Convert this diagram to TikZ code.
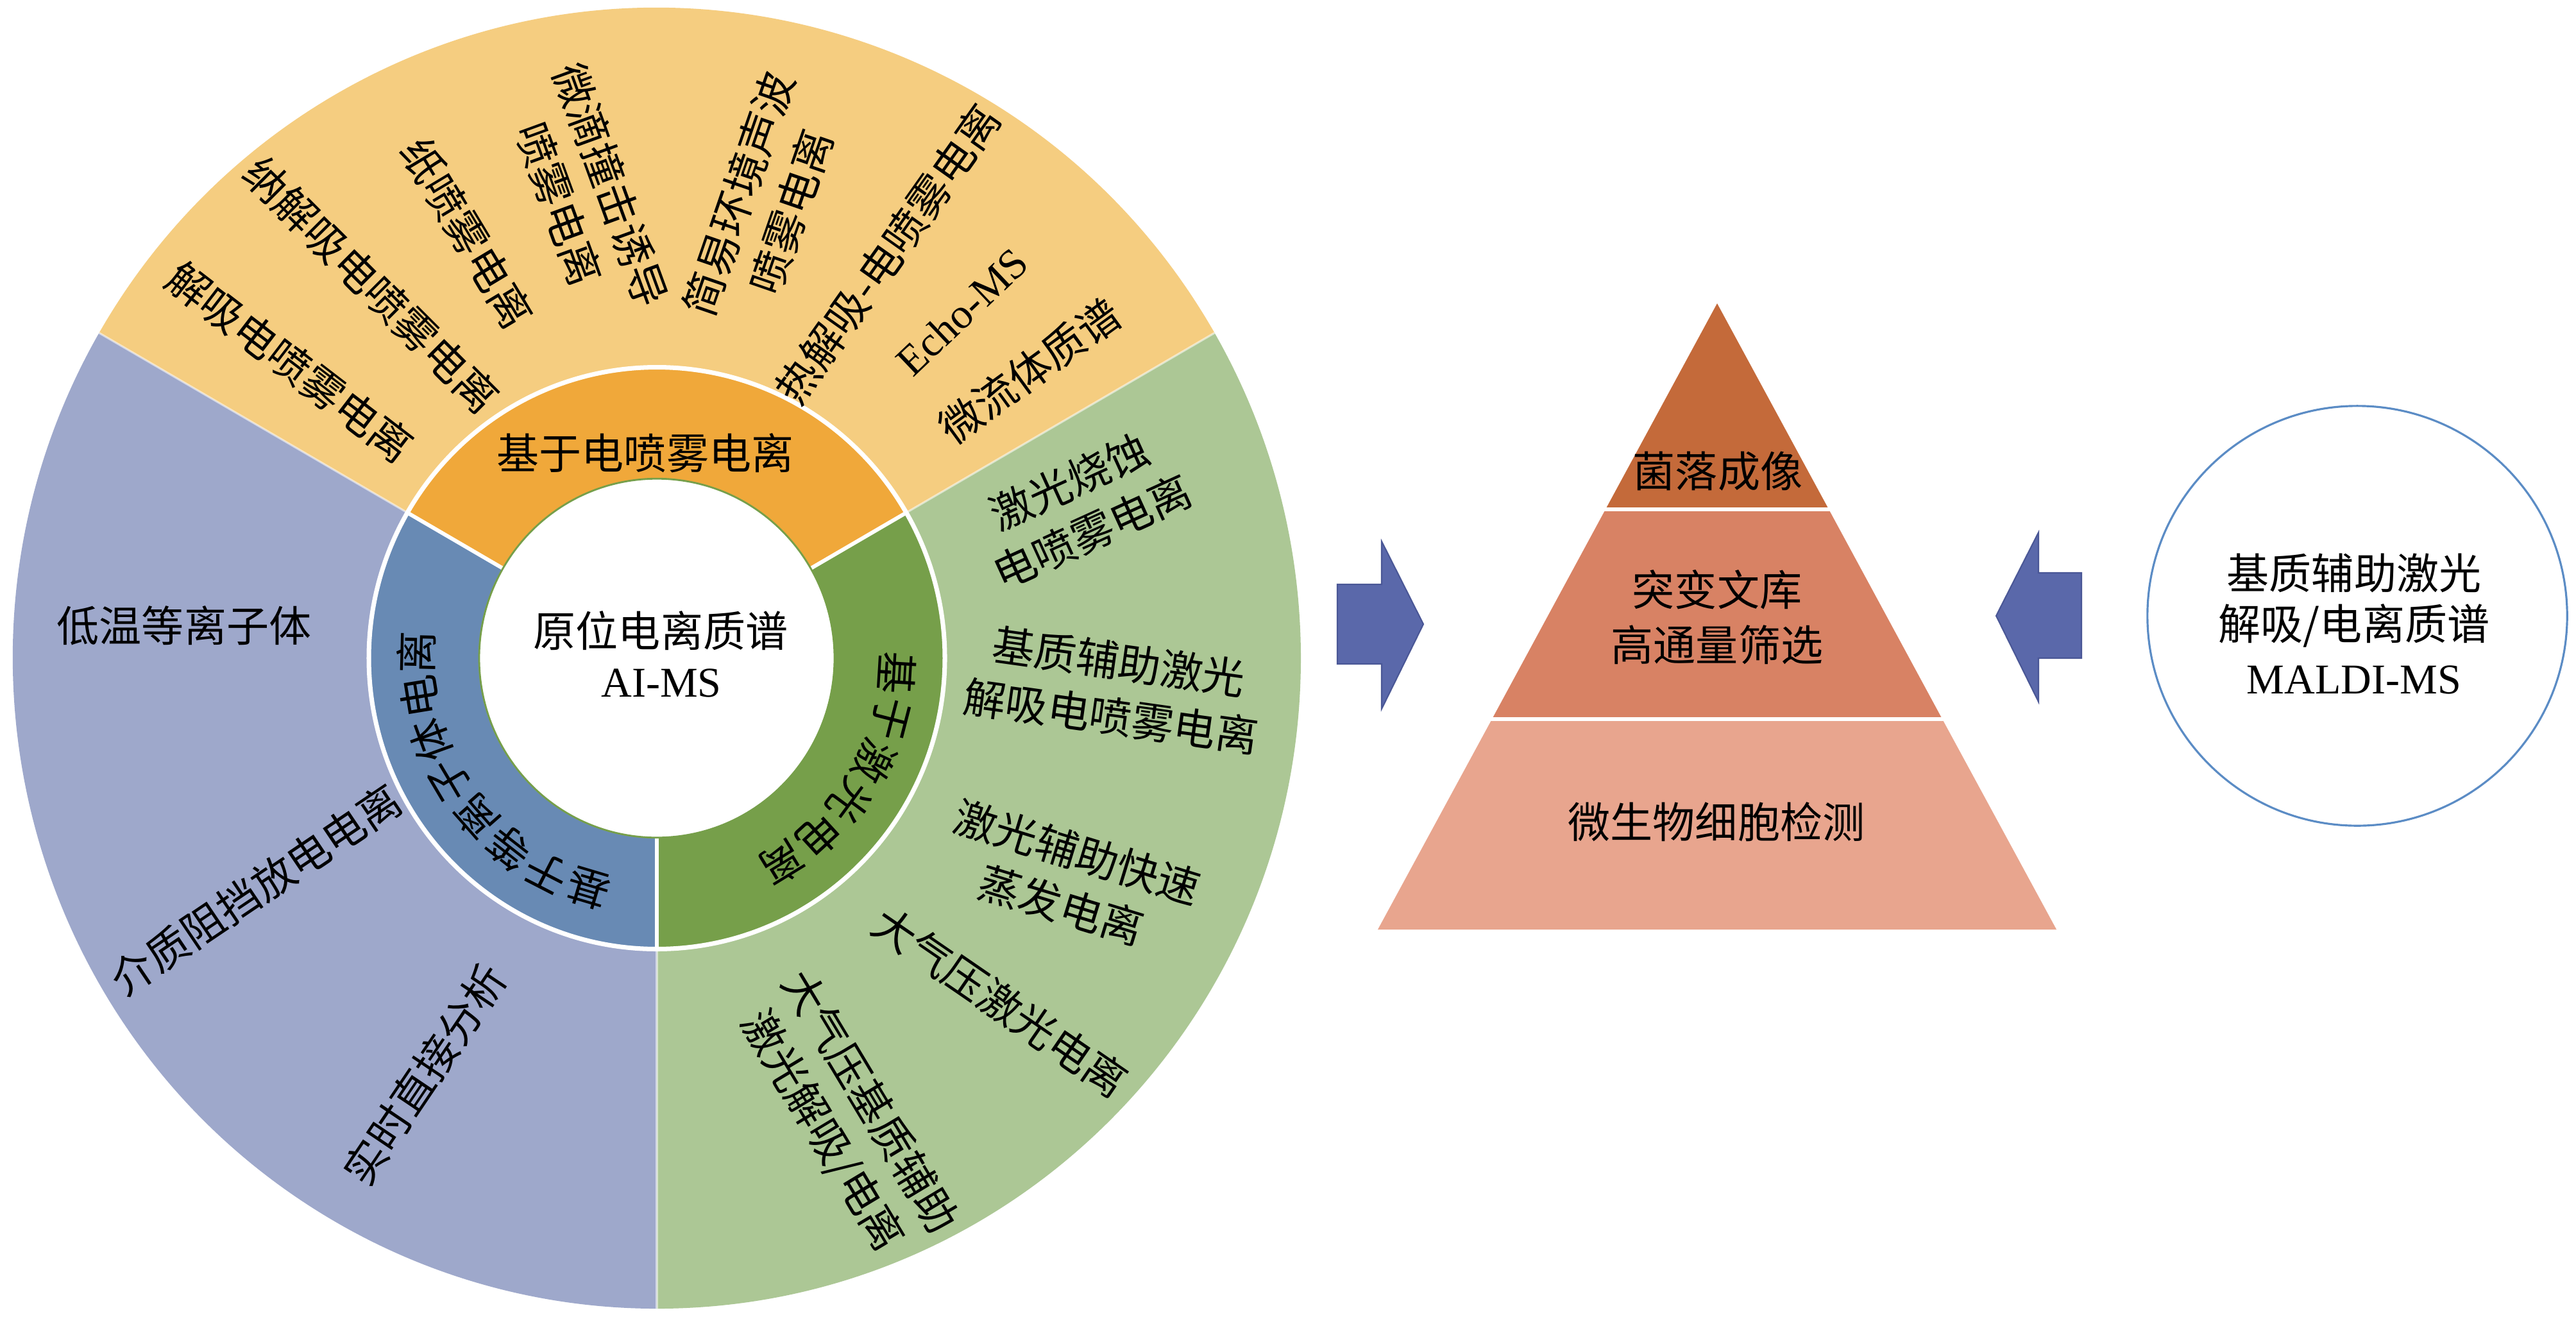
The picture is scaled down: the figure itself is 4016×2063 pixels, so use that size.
\documentclass[tikz,border=0pt]{standalone}
\usepackage{fontspec}
\setmainfont{Liberation Serif}
\newfontfamily\cjk{Noto Sans CJK SC}
\definecolor{cYel}{HTML}{F5CD80}
\definecolor{cOra}{HTML}{F0A83A}
\definecolor{cPur}{HTML}{9EA8CB}
\definecolor{cBlu}{HTML}{688AB4}
\definecolor{cGrl}{HTML}{ACC795}
\definecolor{cGrd}{HTML}{769F4A}
\definecolor{cPyA}{HTML}{C46A3A}
\definecolor{cPyB}{HTML}{D88264}
\definecolor{cPyC}{HTML}{E8A58E}
\definecolor{cArr}{HTML}{5A68AA}
\definecolor{cArrE}{HTML}{4A5796}
\definecolor{cCirc}{HTML}{5B8CC5}
\begin{document}
\begin{tikzpicture}[x=0.01cm,y=0.01cm,
  zh/.style={font=\cjk\fontsize{18.8pt}{24.5pt}\selectfont, align=center, inner sep=0pt, text=black},
  la/.style={font=\fontsize{18.8pt}{24.5pt}\selectfont, inner sep=0pt, text=black},
  sepline/.style={white, line width=1.7pt},
  fainsep/.style={white, opacity=0.55, line width=0.9pt},
  arrowshape/.style={fill=cArr, draw=cArrE, line width=0.6pt, line join=miter}]
\useasboundingbox (0,0) rectangle (4016,-2063);
\fill[white] (0,0) rectangle (4016,-2063);

% ---------------- wheel ----------------
\begin{scope}[shift={(1024,-1026)}, yscale=1.01]
  % outer ring
  \fill[cYel] (0,0) -- (30:1004) arc[start angle=30, end angle=150, radius=1004] -- cycle;
  \fill[cPur] (0,0) -- (150:1004) arc[start angle=150, end angle=270, radius=1004] -- cycle;
  \fill[cGrl] (0,0) -- (270:1004) arc[start angle=270, end angle=390, radius=1004] -- cycle;
  \draw[fainsep] (30:449) -- (30:1004);
  \draw[fainsep] (150:449) -- (150:1004);
  \draw[fainsep] (270:449) -- (270:1004);
  % inner ring
  \fill[cOra] (0,0) -- (30:449) arc[start angle=30, end angle=150, radius=449] -- cycle;
  \fill[cBlu] (0,0) -- (150:449) arc[start angle=150, end angle=270, radius=449] -- cycle;
  \fill[cGrd] (0,0) -- (270:449) arc[start angle=270, end angle=390, radius=449] -- cycle;
  \draw[sepline] (30:270) -- (30:449);
  \draw[sepline] (150:270) -- (150:449);
  \draw[sepline] (270:270) -- (270:449);
  \draw[white, line width=2pt] (0,0) circle[radius=449];
  % centre
  \fill[white] (0,0) circle[radius=277];
  \draw[cGrd, line width=0.8pt] (0,0) circle[radius=277];
\end{scope}

% centre text
\node[zh] (core1) at (1030,-983) {原位电离质谱};
\node[la] (core2) at (1031,-1065) {AI-MS};

% inner ring texts
\node[zh] (inEsi) at (1006,-706) {基于电喷雾电离};
\begin{scope}[shift={(1024,-1026)}]
  \foreach \zc [count=\i from 0] in {基,于,等,离,子,体,电,离}{
    \pgfmathsetmacro\ang{216+(3.5-\i)*10.7}
    \node[zh, rotate=\ang-90] (inPl\i) at (\ang:375) {\zc};
  }
  \foreach \zc [count=\i from 0] in {基,于,激,光,电,离}{
    \pgfmathsetmacro\ang{-31+(2.5-\i)*11}
    \node[zh, rotate=\ang-90] (inLa\i) at (\ang:375) {\zc};
  }
\end{scope}

% outer ring: electrospray based
\node[zh, rotate=-37.5] (y1) at (452,-564) {解吸电喷雾电离};
\node[zh, rotate=-45] (y2) at (579,-444) {纳解吸电喷雾电离};
\node[zh, rotate=-59] (y3) at (728,-363) {纸喷雾电离};
\node[zh, rotate=-70] (y4) at (912,-303) {微滴撞击诱导\\喷雾电离};
\node[zh, rotate=71] (y5) at (1192,-316) {简易环境声波\\喷雾电离};
\node[zh, rotate=54.7] (y6) at (1384,-396) {热解吸-电喷雾电离};
\node[la, rotate=43.5] (y7) at (1500,-486) {Echo-MS};
\node[zh, rotate=36] (y8) at (1605,-578) {微流体质谱};

% outer ring: plasma based
\node[zh] (p1) at (287,-975) {低温等离子体};
\node[zh, rotate=34] (p2) at (399,-1387) {介质阻挡放电电离};
\node[zh, rotate=56] (p3) at (662,-1675) {实时直接分析};

% outer ring: laser based
\node[zh, rotate=24.5] (g1) at (1685,-790) {激光烧蚀\\电喷雾电离};
\node[zh, rotate=-8] (g2) at (1738,-1074) {基质辅助激光\\解吸电喷雾电离};
\node[zh, rotate=-17] (g3) at (1667,-1370) {激光辅助快速\\蒸发电离};
\node[zh, rotate=-34.5] (g4) at (1560,-1562) {大气压激光电离};
\node[zh, rotate=-59] (g5) at (1318,-1741) {大气压基质辅助\\激光解吸/电离};

% ---------------- arrows ----------------
\fill[arrowshape] (2085,-911) -- (2154,-911) -- (2154,-844) -- (2219,-973)
  -- (2154,-1105) -- (2154,-1035) -- (2085,-1035) -- cycle;
\fill[arrowshape] (3245,-893) -- (3178,-893) -- (3178,-830) -- (3112,-960)
  -- (3178,-1094) -- (3178,-1026) -- (3245,-1026) -- cycle;

% ---------------- pyramid ----------------
\fill[cPyA] (2677,-473) -- (2851,-794) -- (2503,-794) -- cycle;
\fill[cPyB] (2503,-794) -- (2851,-794) -- (3028,-1121) -- (2326,-1121) -- cycle;
\fill[cPyC] (2326,-1121) -- (3028,-1121) -- (3206,-1449) -- (2148,-1449) -- cycle;
\draw[sepline] (2500,-794) -- (2854,-794);
\draw[sepline] (2323,-1121) -- (3031,-1121);
\node[zh] (pyr1) at (2678,-735) {菌落成像};
\node[zh] (pyr2) at (2677,-962) {突变文库\\高通量筛选};
\node[zh] (pyr3) at (2676,-1281) {微生物细胞检测};

% ---------------- MALDI circle ----------------
\node[circle, draw=cCirc, line width=0.9pt, minimum size=6.54cm, inner sep=0pt] (maldi) at (3675,-960) {};
\node[zh] (m1) at (3670,-893) {基质辅助激光};
\node[zh] (m2) at (3670,-975) {解吸/电离质谱};
\node[la] (m3) at (3670,-1060) {MALDI-MS};
\end{tikzpicture}
\end{document}
